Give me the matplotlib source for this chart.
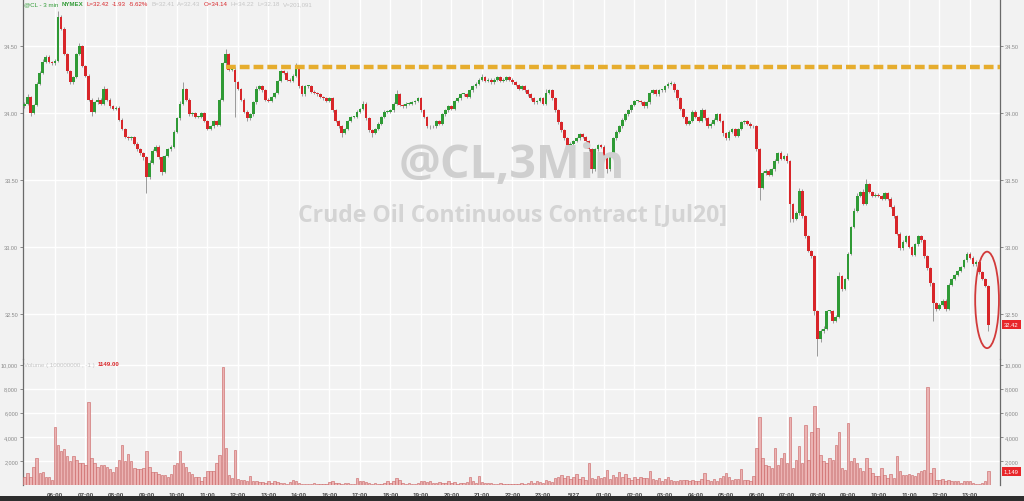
import matplotlib
matplotlib.use("Agg")
import matplotlib.pyplot as plt
import matplotlib.transforms as mtransforms
from matplotlib.patches import Ellipse, Rectangle
import numpy as np

plt.rcParams["font.family"] = ["Liberation Sans", "DejaVu Sans"]

# ---- DATA (6-minute candles) ----
first_open = 34.05
closes = [
    34.07, 34.12, 34.00, 34.06, 34.22, 34.30, 34.38, 34.42, 34.38, 34.37,
    34.39, 34.72, 34.63, 34.44, 34.31, 34.23, 34.27, 34.44, 34.50, 34.35,
    34.28, 34.10, 34.01, 34.08, 34.10, 34.07, 34.18, 34.10, 34.05, 34.03,
    34.04, 33.95, 33.88, 33.82, 33.81, 33.82, 33.77, 33.73, 33.70, 33.67,
    33.52, 33.63, 33.72, 33.75, 33.67, 33.56, 33.68, 33.73, 33.75, 33.86,
    33.96, 34.07, 34.18, 34.10, 33.99, 34.00, 33.97, 33.97, 34.00, 33.94,
    33.88, 33.90, 33.94, 33.91, 34.10, 34.37, 34.44, 34.32, 34.32, 34.23,
    34.18, 34.10, 34.01, 33.96, 33.99, 34.08, 34.18, 34.20, 34.17, 34.10,
    34.09, 34.12, 34.15, 34.24, 34.31, 34.30, 34.25, 34.24, 34.28, 34.34,
    34.20, 34.14, 34.20, 34.20, 34.16, 34.15, 34.14, 34.12, 34.11, 34.09,
    34.11, 34.02, 33.94, 33.90, 33.85, 33.88, 33.94, 33.97, 33.97, 34.01,
    34.03, 34.07, 33.96, 33.87, 33.85, 33.88, 33.92, 33.97, 34.01, 34.01,
    34.02, 34.07, 34.14, 34.06, 34.05, 34.07, 34.07, 34.08, 34.09, 34.11,
    34.02, 33.97, 33.90, 33.90, 33.90, 33.94, 33.92, 33.99, 34.02, 34.05,
    34.03, 34.09, 34.11, 34.14, 34.14, 34.12, 34.17, 34.20, 34.22, 34.25,
    34.27, 34.24, 34.25, 34.23, 34.25, 34.27, 34.24, 34.25, 34.27, 34.25,
    34.23, 34.21, 34.18, 34.20, 34.17, 34.14, 34.11, 34.08, 34.09, 34.11,
    34.07, 34.15, 34.17, 34.11, 34.02, 33.93, 33.87, 33.81, 33.75, 33.77,
    33.79, 33.81, 33.84, 33.82, 33.79, 33.73, 33.58, 33.73, 33.76, 33.75,
    33.68, 33.58, 33.68, 33.81, 33.86, 33.90, 33.95, 33.99, 34.02, 34.06,
    34.09, 34.09, 34.08, 34.05, 34.08, 34.15, 34.17, 34.14, 34.17, 34.17,
    34.20, 34.22, 34.22, 34.17, 34.11, 34.03, 33.97, 33.92, 33.94, 34.01,
    33.97, 33.94, 34.02, 33.96, 33.90, 33.92, 33.95, 33.99, 33.94, 33.85,
    33.81, 33.86, 33.88, 33.83, 33.88, 33.93, 33.94, 33.92, 33.90, 33.90,
    33.73, 33.44, 33.55, 33.57, 33.54, 33.58, 33.64, 33.70, 33.66, 33.68,
    33.64, 33.32, 33.21, 33.25, 33.42, 33.23, 33.08, 32.97, 32.93, 32.52,
    32.31, 32.37, 32.39, 32.52, 32.52, 32.45, 32.48, 32.78, 32.69, 32.76,
    32.95, 33.15, 33.27, 33.38, 33.41, 33.32, 33.47, 33.41, 33.38, 33.39,
    33.38, 33.36, 33.40, 33.36, 33.30, 33.23, 33.10, 32.99, 33.04, 33.08,
    33.00, 32.94, 33.02, 33.08, 33.05, 32.93, 32.84, 32.73, 32.58, 32.54,
    32.57, 32.60, 32.54, 32.72, 32.76, 32.79, 32.82, 32.85, 32.90, 32.95,
    32.92, 32.87, 32.89, 32.81, 32.76, 32.71, 32.42,
]
# wick lengths beyond the body, in cents
up_wick = [
    1, 2, 1, 1, 1, 1, 2, 1, 1, 1,
    1, 4, 1, 1, 1, 1, 1, 1, 2, 1,
    1, 1, 1, 1, 2, 1, 2, 1, 1, 1,
    1, 1, 1, 1, 1, 1, 1, 1, 1, 1,
    1, 2, 1, 1, 1, 1, 1, 1, 1, 1,
    1, 2, 5, 1, 1, 1, 1, 1, 1, 1,
    1, 1, 1, 1, 1, 1, 4, 1, 1, 2,
    1, 1, 1, 1, 1, 1, 2, 1, 1, 1,
    1, 1, 1, 1, 1, 1, 1, 1, 1, 3,
    1, 1, 1, 1, 1, 1, 1, 1, 1, 1,
    1, 1, 1, 1, 1, 1, 1, 1, 1, 1,
    1, 2, 1, 1, 1, 1, 1, 1, 1, 1,
    1, 1, 3, 1, 1, 1, 1, 1, 1, 1,
    1, 1, 1, 1, 1, 1, 1, 1, 1, 1,
    1, 1, 1, 1, 1, 1, 1, 1, 1, 1,
    2, 1, 1, 1, 1, 1, 1, 1, 1, 1,
    1, 1, 1, 1, 1, 1, 1, 1, 1, 1,
    1, 3, 1, 1, 1, 1, 1, 1, 1, 1,
    1, 1, 1, 1, 1, 1, 1, 1, 1, 1,
    1, 1, 1, 1, 1, 1, 1, 1, 1, 1,
    1, 1, 1, 1, 1, 1, 1, 1, 1, 1,
    1, 1, 2, 1, 1, 1, 1, 1, 1, 1,
    1, 1, 2, 1, 1, 1, 1, 1, 1, 1,
    1, 1, 1, 1, 1, 1, 1, 1, 1, 1,
    1, 1, 2, 1, 1, 1, 2, 1, 2, 1,
    2, 1, 1, 2, 2, 1, 1, 1, 1, 1,
    1, 2, 2, 1, 1, 1, 1, 3, 1, 1,
    1, 1, 2, 2, 1, 2, 4, 1, 1, 1,
    1, 1, 1, 1, 1, 1, 1, 1, 1, 1,
    1, 1, 1, 1, 1, 1, 1, 1, 1, 1,
    1, 1, 1, 1, 1, 1, 1, 1, 1, 1,
    1, 1, 1, 1, 1, 1, 1,
]
down_wick = [
    1, 1, 2, 1, 1, 1, 1, 1, 1, 1,
    1, 1, 1, 1, 1, 1, 1, 1, 1, 1,
    1, 1, 3, 1, 1, 1, 1, 1, 1, 1,
    1, 1, 1, 1, 1, 1, 1, 1, 1, 2,
    12, 1, 1, 1, 1, 2, 1, 1, 1, 1,
    1, 1, 1, 1, 1, 1, 1, 1, 1, 1,
    1, 1, 1, 1, 1, 1, 1, 1, 1, 26,
    1, 1, 1, 2, 1, 1, 1, 1, 1, 1,
    1, 1, 1, 1, 1, 1, 1, 1, 1, 1,
    1, 1, 1, 1, 1, 1, 1, 1, 1, 1,
    1, 1, 1, 1, 3, 1, 1, 1, 1, 1,
    1, 1, 1, 1, 3, 1, 1, 1, 1, 1,
    1, 1, 1, 1, 1, 1, 1, 1, 1, 1,
    1, 1, 1, 2, 1, 1, 1, 1, 1, 1,
    1, 1, 1, 1, 1, 1, 1, 1, 1, 1,
    1, 1, 1, 1, 1, 1, 1, 1, 1, 1,
    1, 1, 1, 1, 1, 1, 1, 1, 1, 1,
    1, 1, 1, 1, 1, 1, 1, 1, 1, 1,
    1, 1, 1, 1, 1, 1, 3, 1, 1, 1,
    1, 3, 1, 1, 1, 1, 1, 1, 1, 1,
    1, 1, 1, 1, 1, 1, 1, 1, 1, 1,
    1, 1, 1, 1, 1, 1, 1, 1, 1, 1,
    1, 1, 1, 1, 1, 1, 1, 1, 1, 2,
    1, 1, 1, 1, 1, 1, 1, 1, 1, 1,
    1, 9, 1, 1, 1, 1, 1, 1, 1, 1,
    1, 13, 2, 1, 1, 1, 1, 1, 1, 3,
    12, 2, 1, 1, 1, 2, 1, 1, 2, 1,
    1, 1, 1, 1, 1, 1, 1, 1, 1, 1,
    1, 1, 1, 1, 1, 1, 1, 1, 1, 1,
    1, 1, 1, 1, 1, 1, 1, 2, 13, 2,
    1, 1, 2, 1, 1, 1, 1, 1, 1, 1,
    1, 1, 1, 1, 1, 1, 5,
]
volumes = [
    700, 1000, 700, 1500, 2200, 1000, 1100, 700, 700, 450,
    4800, 3300, 2800, 3000, 2400, 2000, 2400, 2100, 1800, 1800,
    1700, 6900, 2200, 1800, 1500, 1700, 1700, 1500, 1300, 1100,
    1500, 2100, 3300, 2000, 2600, 2000, 1400, 1300, 1300, 1400,
    2800, 1500, 1100, 1100, 900, 850, 800, 700, 900, 1700,
    1800, 2800, 1800, 1500, 1100, 900, 700, 700, 350, 630,
    1200, 1200, 1200, 1800, 2500, 9800, 3100, 850, 580, 2900,
    520, 440, 440, 360, 770, 360, 300, 250, 250, 200,
    350, 150, 300, 250, 200, 150, 100, 250, 400, 300,
    150, 100, 120, 80, 100, 150, 80, 120, 60, 100,
    250, 350, 200, 150, 100, 200, 150, 100, 80, 600,
    300, 350, 250, 150, 100, 150, 80, 100, 200, 350,
    150, 300, 550, 400, 150, 100, 150, 80, 100, 150,
    300, 350, 250, 300, 200, 150, 250, 200, 150, 300,
    150, 250, 100, 200, 150, 250, 650, 300, 200, 750,
    250, 150, 200, 150, 120, 100, 150, 100, 120, 80,
    100, 80, 120, 200, 100, 150, 300, 200, 350, 250,
    200, 400, 300, 250, 550, 700, 850, 600, 750, 500,
    650, 900, 500, 700, 450, 1800, 600, 500, 750, 550,
    700, 1250, 500, 800, 650, 1100, 700, 900, 600, 450,
    700, 500, 650, 550, 600, 1150, 500, 400, 600, 350,
    500, 700, 450, 350, 300, 400, 450, 440, 300, 440,
    300, 360, 520, 990, 440, 360, 520, 360, 580, 720,
    990, 630, 440, 520, 520, 1350, 440, 440, 300, 720,
    3060, 5680, 2230, 1680, 1540, 1400, 3060, 1680, 2230, 2640,
    1820, 5680, 1400, 2090, 3200, 1820, 4990, 2090, 4440, 6580,
    4710, 2510, 1960, 1820, 2230, 2090, 3330, 4440, 1400, 1270,
    5120, 1960, 2230, 1820, 1400, 1130, 2230, 1400, 990, 720,
    720, 1400, 850, 580, 910, 580, 2370, 1130, 850, 800,
    910, 850, 720, 990, 1130, 1270, 8150, 990, 1400, 440,
    440, 520, 300, 440, 300, 300, 360, 170, 300, 360,
    300, 170, 80, 80, 170, 300, 1149,
]
hour_labels = [
    "06:00", "07:00", "08:00", "09:00", "10:00", "11:00", "12:00", "13:00",
    "14:00", "16:00", "17:00", "18:00", "19:00", "20:00", "21:00", "22:00",
    "23:00", "5/27", "01:00", "02:00", "03:00", "04:00", "05:00", "06:00",
    "07:00", "08:00", "09:00", "10:00", "11:00", "12:00", "13:00",
]
price_ticks = [32.5, 33.0, 33.5, 34.0, 34.5]
volume_ticks = [2000, 4000, 6000, 8000, 10000]
level_price = 34.34
level_start_bar = 66
last_price = 32.42
last_volume = 1149

# ---- STYLE ----
BG = "#f2f2f2"
GREEN = "#2f9a35"
RED = "#d8262a"
LIGHT = "#c6c6c6"
WICK = "#9a9a9a"
TICK_COLOR = "#8a8a8a"

W, H = 1024, 502
fig = plt.figure(figsize=(W / 100, H / 100), dpi=100, facecolor=BG)


def fx(px):
    return px / W


def fy(py):
    return 1 - py / H


ax = fig.add_axes([fx(23), fy(360), fx(1000) - fx(23), fy(0) - fy(360)])
axv = fig.add_axes([fx(23), fy(486), fx(1000) - fx(23), fy(360) - fy(486)], sharex=ax)

opens = np.array([first_open] + closes[:-1])
closes_a = np.array(closes)
bar_pos = -1.0 + 0.1 * np.arange(len(closes))  # trading hours after 06:00
body_lo = np.minimum(opens, closes_a)
body_hi = np.maximum(opens, closes_a)
highs = body_hi + np.array(up_wick) / 100
lows = body_lo - np.array(down_wick) / 100
colors = np.where(closes_a >= opens, GREEN, RED)

hours = np.arange(len(hour_labels))

for a in (ax, axv):
    a.set_facecolor(BG)
    a.patch.set_alpha(0)
    a.set_xticks(hours)
    a.grid(True, color="white", linewidth=1.0, zorder=0)
    a.set_axisbelow(True)
    for s in ("top", "bottom"):
        a.spines[s].set_visible(False)
    for s in ("left", "right"):
        a.spines[s].set_color("#6a6a6a")
        a.spines[s].set_linewidth(0.9)
    a.tick_params(axis="y", which="both", left=True, right=True,
                  labelleft=True, labelright=True, length=2.5, width=0.6,
                  color="#777777", labelsize=4.0, labelcolor=TICK_COLOR, pad=1)

# watermark
fig.text(0.5, fy(166), "@CL,3Min", ha="center", va="center", fontsize=33.5,
         fontweight="bold", family="Open Sans", color="#cfcfcf", zorder=0.5)
fig.text(0.5, fy(215), "Crude Oil Continuous Contract [Jul20]", ha="center",
         va="center", fontsize=16.6, fontweight="bold", family="Open Sans",
         color="#d4d4d4", zorder=0.5)

# candles
ax.vlines(bar_pos, lows, highs, color=WICK, linewidth=0.7, zorder=2)
ax.bar(bar_pos, np.maximum(body_hi - body_lo, 0.006), bottom=body_lo,
       width=0.09, color=colors, linewidth=0, zorder=3)

# resistance level
ax.plot([bar_pos[level_start_bar], 30.984], [level_price, level_price],
        color="#e6ad2e", linewidth=3.2, dashes=(2.2, 0.9),
        solid_capstyle="butt", dash_capstyle="butt", zorder=4)

ax.add_patch(Ellipse((30.56, 32.605), 0.78, 0.72, fill=False,
                     edgecolor="#d23a3a", linewidth=1.3, zorder=5))

ax.set_xlim(-1.049, 30.984)
ax.set_ylim(32.164, 34.851)
ax.set_yticks(price_ticks)
ax.yaxis.set_major_formatter(plt.FuncFormatter(lambda v, p: f"{v:.2f}"))
ax.tick_params(axis="x", bottom=False, labelbottom=False)

# last price tag
tr = mtransforms.blended_transform_factory(ax.transAxes, ax.transData)
ax.text(1.004, last_price, f"{last_price:.2f}", transform=tr, ha="left",
        va="center", fontsize=4.2, color="white", zorder=6,
        bbox=dict(boxstyle="square,pad=0.35", fc="#e8262a", ec="none"))

# volume
axv.bar(bar_pos, volumes, width=0.08, color="#ebb3b3", edgecolor="#c96060",
        linewidth=0.4, zorder=3)
axv.set_ylim(0, 10460)
axv.set_yticks(volume_ticks)
axv.yaxis.set_major_formatter(plt.FuncFormatter(lambda v, p: f"{v:,.0f}"))
axv.set_xticklabels(hour_labels)
axv.tick_params(axis="x", bottom=False, labelsize=4.5, labelcolor="#444444",
                pad=1.5)
for lbl in axv.get_xticklabels():
    lbl.set_fontweight("bold")
trv = mtransforms.blended_transform_factory(axv.transAxes, axv.transData)
axv.text(1.004, last_volume, f"{last_volume:,}", transform=trv, ha="left",
         va="center", fontsize=4.2, color="white", zorder=6,
         bbox=dict(boxstyle="square,pad=0.35", fc="#e8262a", ec="none"))


def chain_text(x0, y0, parts, size):
    """Write text pieces one after another, left to right."""
    renderer = fig.canvas.get_renderer()
    x = x0
    for txt, col, wt in parts:
        t = fig.text(fx(x), fy(y0), txt, color=col, fontsize=size,
                     fontweight=wt, ha="left", va="center")
        x = t.get_window_extent(renderer).x1 + 3


chain_text(24, 4.5, [
    ("@CL - 3 min", GREEN, "normal"),
    ("NYMEX", GREEN, "bold"),
    ("L=32.42", RED, "normal"),
    ("-1.93", RED, "normal"),
    ("-5.62%", RED, "normal"),
    ("B=32.41", LIGHT, "normal"),
    ("A=32.43", LIGHT, "normal"),
    ("O=34.14", RED, "normal"),
    ("H=34.22", LIGHT, "normal"),
    ("L=32.18", LIGHT, "normal"),
    ("V=201,091", LIGHT, "normal"),
], 4.4)
chain_text(24, 365, [
    ("Volume ( 100000000 , -1 )", LIGHT, "normal"),
    ("1149.00", RED, "bold"),
], 4.4)

# dark footer band
fig.add_artist(Rectangle((0, 0), 1, 5.5 / H, transform=fig.transFigure,
                         facecolor="#2d2d2d", edgecolor="none"))

fig.savefig("out.png", dpi=100, facecolor=BG)
